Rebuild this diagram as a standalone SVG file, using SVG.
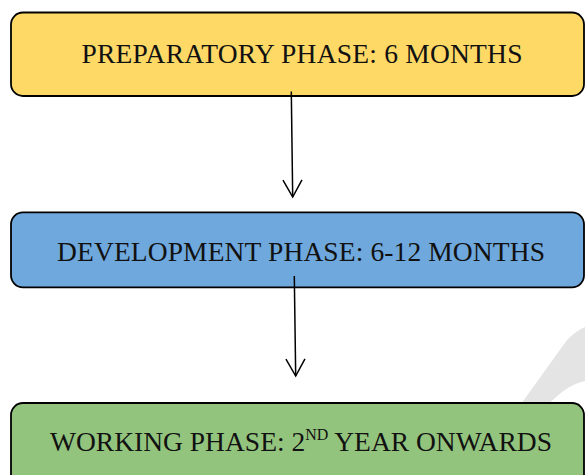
<svg xmlns="http://www.w3.org/2000/svg" width="585" height="475" viewBox="0 0 585 475">
  <style>
    .box { stroke: #000; stroke-width: 1.8; }
    .lbl { font-family: "Liberation Serif", "Times New Roman", serif; font-size: 27.5px; fill: #111; text-anchor: middle; }
    .sup { font-size: 16px; }
    .conn { stroke: #000; stroke-width: 1.5; fill: none; }
  </style>
  <defs>
    <marker id="vhead" markerUnits="userSpaceOnUse" viewBox="-20 -12 22 24" markerWidth="22" markerHeight="24" refX="0" refY="0" orient="auto" overflow="visible">
      <path d="M-17,-9.5 L0,0 L-17,9.5" fill="none" stroke="#000" stroke-width="1.5" stroke-linejoin="miter"/>
    </marker>
  </defs>
  <rect width="585" height="475" fill="#fff"/>
  <path id="watermark" d="M521,404 L567,340 Q577,330 585,327 L585,381 Q572,384 562,392 L548,404 Z" fill="#e4e4e4"/>
  <g id="preparatory">
    <rect class="box" x="11" y="12.5" width="573" height="83.5" rx="12" fill="#FFD966"/>
    <text class="lbl" x="302" y="62.5" textLength="441" lengthAdjust="spacing">PREPARATORY PHASE: 6 MONTHS</text>
  </g>
  <g id="development">
    <rect class="box" x="11" y="212.3" width="573" height="75" rx="12" fill="#6FA8DC"/>
    <text class="lbl" x="301" y="261" textLength="488" lengthAdjust="spacing">DEVELOPMENT PHASE: 6-12 MONTHS</text>
  </g>
  <g id="working">
    <rect class="box" x="11" y="403" width="573" height="95" rx="12" fill="#93C47D"/>
    <text class="lbl" x="301" y="450.7" textLength="502" lengthAdjust="spacing">WORKING PHASE: 2<tspan class="sup" dy="-10.7">ND</tspan><tspan dy="10.7"> YEAR ONWARDS</tspan></text>
  </g>
  <g id="connectors">
    <line class="conn" x1="291.3" y1="91.5" x2="292.7" y2="197" marker-end="url(#vhead)"/>
    <line class="conn" x1="294.3" y1="276" x2="295.7" y2="376" marker-end="url(#vhead)"/>
  </g>
</svg>
